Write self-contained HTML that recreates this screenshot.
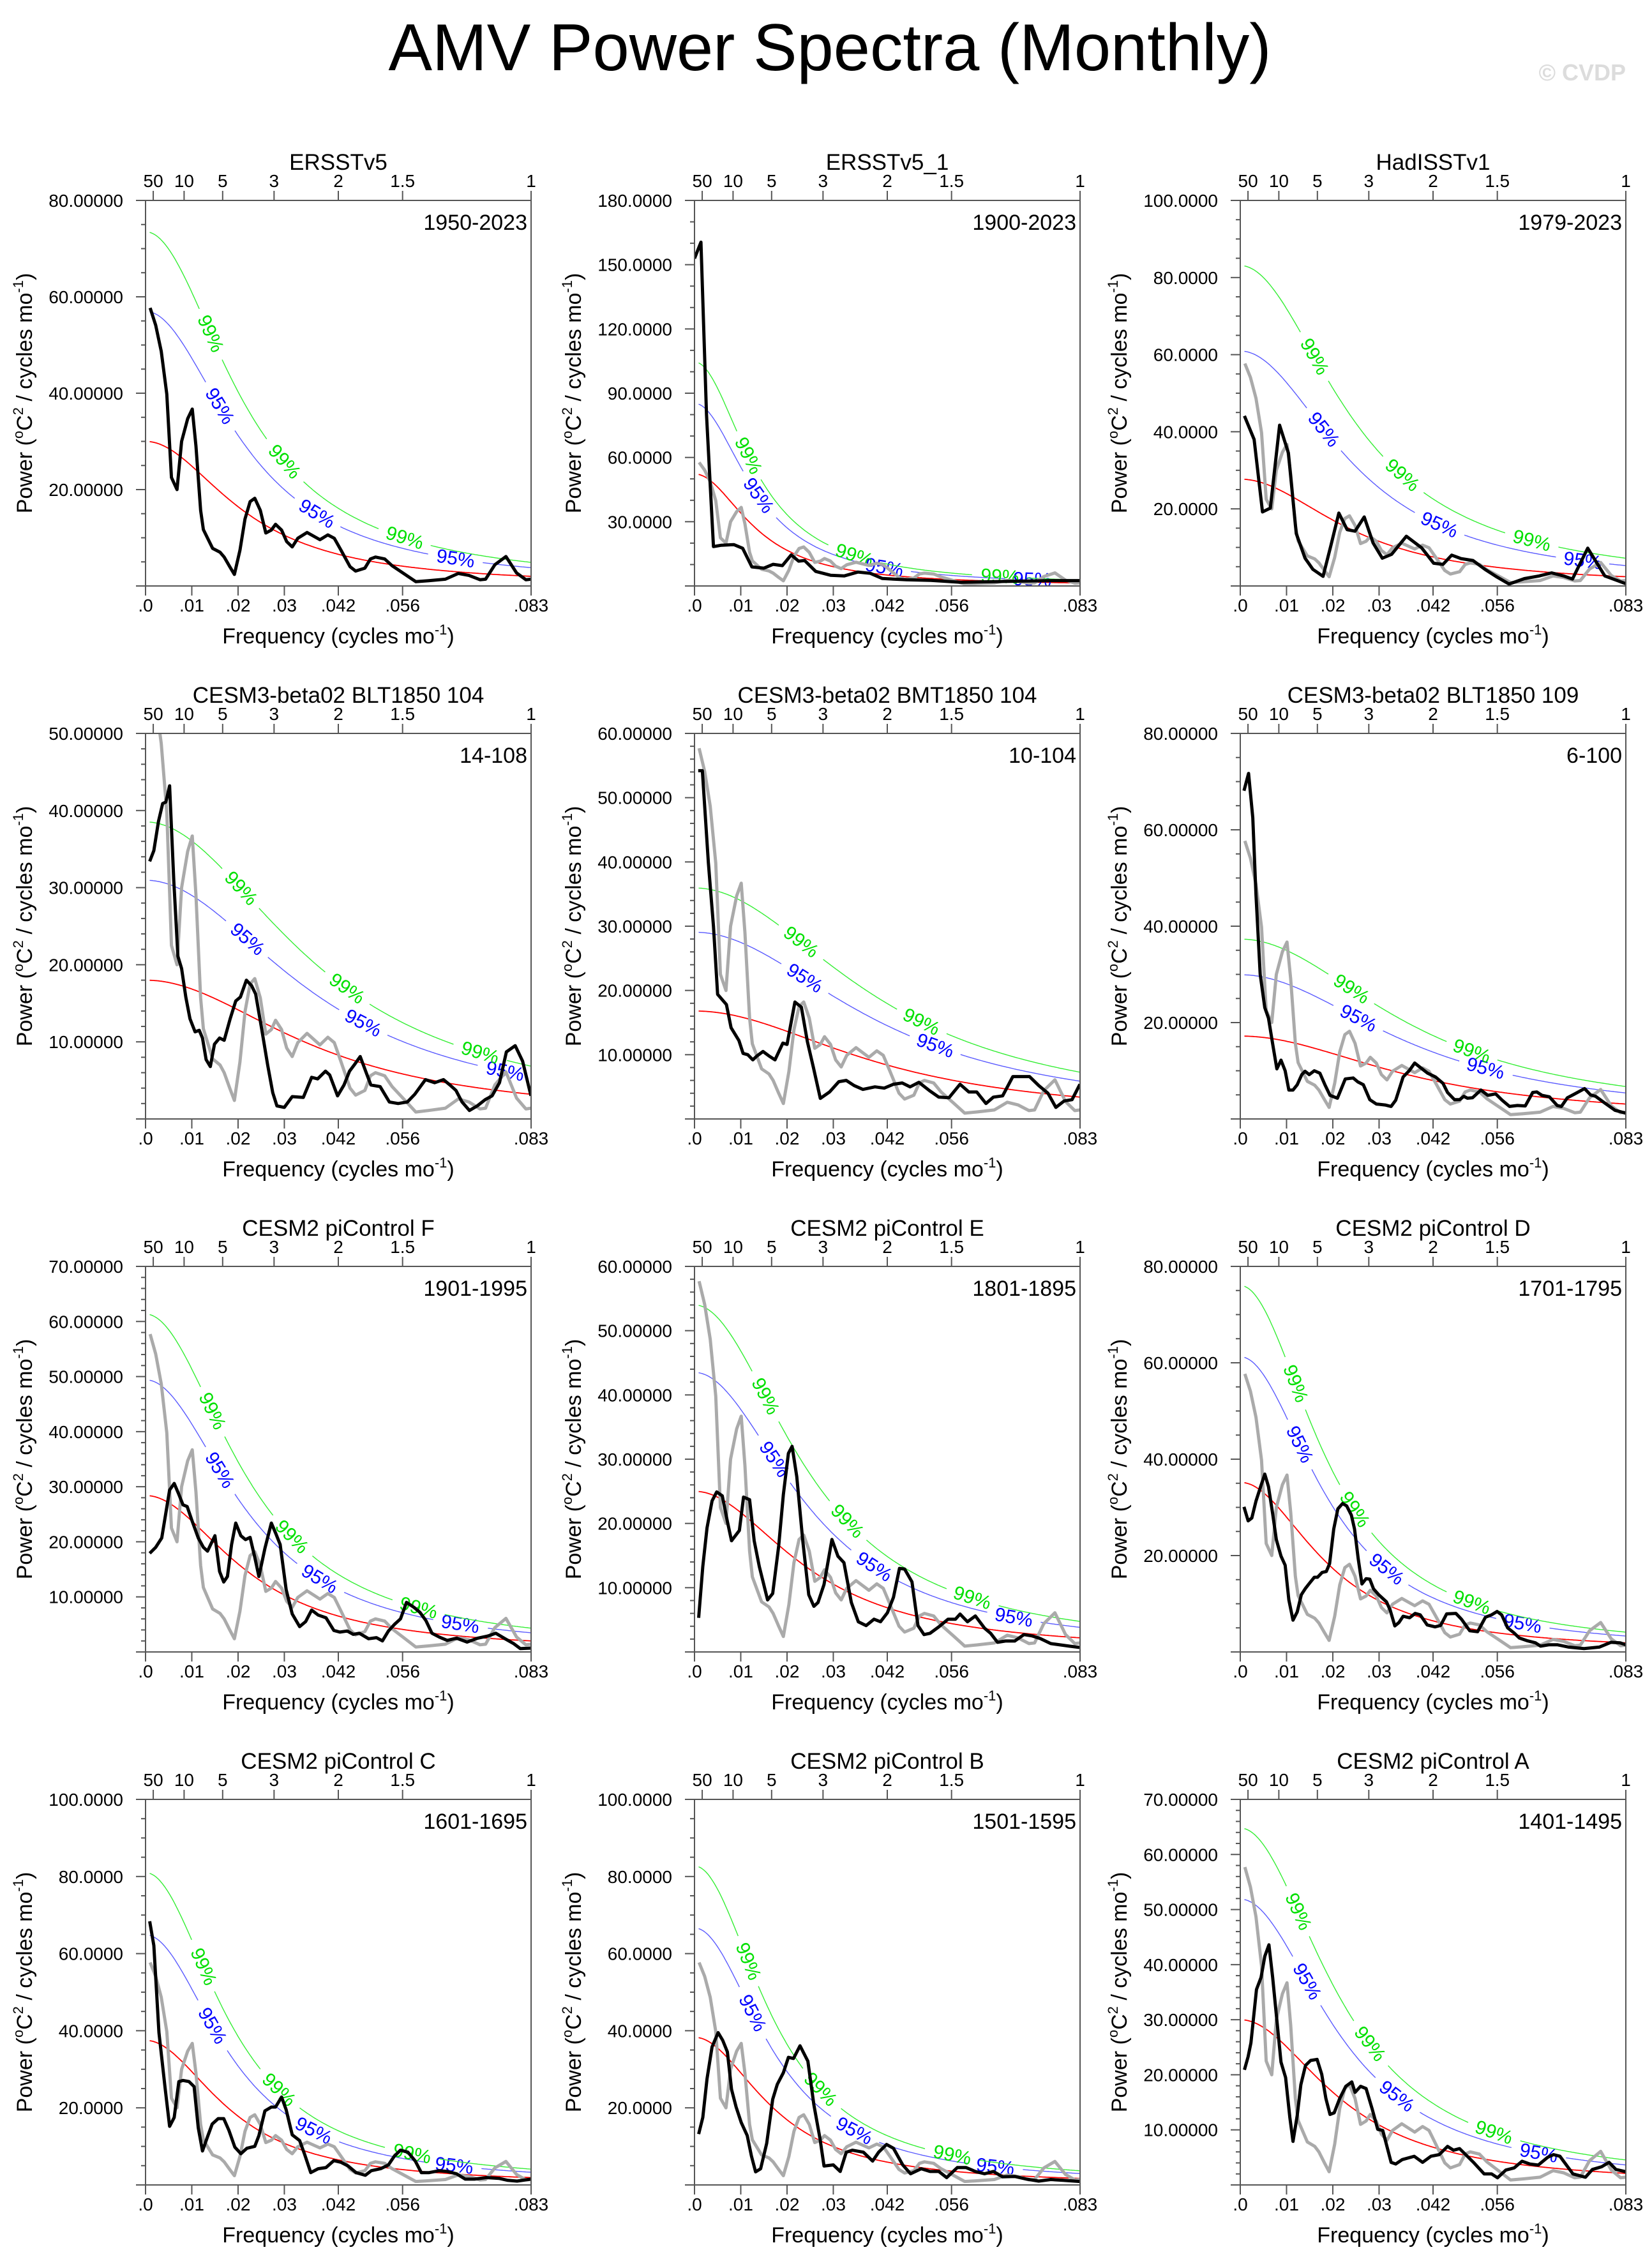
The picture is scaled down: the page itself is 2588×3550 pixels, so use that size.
<!DOCTYPE html>
<html><head><meta charset="utf-8"><title>AMV Power Spectra (Monthly)</title>
<style>
html,body{margin:0;padding:0;background:#fff;}
svg{display:block;font-family:"Liberation Sans",Arial,sans-serif;}
</style></head>
<body>
<svg id="chart" xmlns="http://www.w3.org/2000/svg" width="2588" height="3550" viewBox="0 0 2588 3550">
<rect x="0" y="0" width="2588" height="3550" fill="#fff"/>
<text x="1300" y="110" text-anchor="middle" font-size="104" textLength="1383" lengthAdjust="spacingAndGlyphs">AMV Power Spectra (Monthly)</text>
<text x="2547" y="126" text-anchor="end" font-size="36" font-weight="bold" fill="#dcdcdc">© CVDP</text>
</svg>
<script>
// ---- data (frequency in cycles/mo, power in degC^2/(cycles/mo)) ----
const titles = ["ERSSTv5","ERSSTv5_1","HadISSTv1","CESM3-beta02 BLT1850 104","CESM3-beta02 BMT1850 104","CESM3-beta02 BLT1850 109","CESM2 piControl F","CESM2 piControl E","CESM2 piControl D","CESM2 piControl C","CESM2 piControl B","CESM2 piControl A"];
const years = ["1950-2023","1900-2023","1979-2023","14-108","10-104","6-100","1901-1995","1801-1895","1701-1795","1601-1695","1501-1595","1401-1495"];
const yMax = [80,180,100,50,60,80,70,60,80,100,100,70];
const yMajor = [20,30,20,10,10,20,10,10,20,20,20,10];
const yMinor = [5,10,5,2,2,5,2,2,5,5,5,2];
const redStart = [30,52.3,27.7,18,16.8,17.2,28.4,25,35.2,37.5,38.3,30];
const redEnd = [2.0,1.4,2.4,3.2,3.4,3.1,2.0,2.2,1.9,1.9,1.7,2.1];
const ratio95 = [1.9,1.63,2.2,1.72,1.73,1.74,1.74,1.74,1.74,1.73,1.74,1.73];
const ratio99 = [2.45,2.0,3.0,2.14,2.14,2.17,2.16,2.16,2.16,2.16,2.16,2.16];
const xTickVals = [0,0.01,0.02,0.03,1/24,1/18,1/12];
const xTickLabels = [".0",".01",".02",".03",".042",".056",".083"];
const periodYears = [50,10,5,3,2,1.5,1];
const periodLabels = ["50","10","5","3","2","1.5","1"];
const lab99 = [[.014,.030,.056],[.0116,.0345,.066],[.016,.035,.063],[.0206,.0435,.0723],[.023,.049],[.024,.05],[.0144,.0316,.059],[.0153,.033,.060],[.0119,.0247,.050],[.0125,.0288,.0576],[.0116,.0272,.0557],[.0125,.028,.0548]];
const lab95 = [[.016,.037,.067],[.0138,.041,.073],[.018,.043,.074],[.022,.047,.0777],[.0238,.052],[.0255,.053],[.016,.0376,.068],[.0172,.0388,.069],[.0128,.0316,.061],[.0144,.0363,.0667],[.0125,.0345,.065],[.0144,.0338,.0645]];

const freq1 = [.001,.0022,.0034,.0046,.0056,.0068,.0078,.0091,.0101,.0109,.0119,.0125,.0145,.0161,.017,.0182,.0192,.0204,.0215,.0226,.0236,.0248,.026,.0272,.0281,.0294,.0305,.0317,.0329,.0349,.0377,.0394,.0408,.0422,.0442,.0454,.0474,.0486,.0497,.0517,.0533,.0561,.0584,.0612,.0648,.0676,.0699,.0723,.0735,.0755,.0779,.0802,.0822,.0833];
const power1 = [57.7,54.1,48.7,39.8,22.5,20,30,34.7,36.7,29,15.7,11.7,7.8,7,6,4,2.4,7.4,13.9,17.5,18.2,15.7,11,11.6,12.8,11.6,9.2,8.1,9.9,11.1,9.6,10.6,9.9,7.5,4,3.1,3.7,5.6,6,5.6,4.2,2.4,.9,1.1,1.4,2.6,2.2,1.3,1.4,4.4,6.1,2.7,1.3,1.4];
const freq2 = [0,.0014,.0026,.0041,.0058,.0085,.0104,.0124,.015,.017,.019,.0209,.0225,.0238,.0262,.0294,.0324,.0353,.038,.0406,.0458,.0511,.0576,.0642,.072,.0773,.0833];
const power2 = [152.9,160.5,80,18.4,19,19.3,17.6,8.9,8.3,10.1,9.5,14.5,11.6,11.9,6.8,5,4.7,6.5,5.9,3.5,2.9,2.6,1.7,2,2.3,2.5,2.5];
const freq3 = [.0009,.003,.0048,.0065,.0085,.0104,.0121,.014,.0157,.0179,.0196,.0213,.0231,.0248,.0268,.0287,.0307,.0327,.0359,.0392,.0418,.0438,.0457,.0477,.0503,.0529,.0555,.0581,.0614,.0646,.0673,.0699,.0718,.0751,.0788,.0833];
const power3 = [44.1,38,19.2,20.2,41.7,34.5,13.6,7.2,4.3,2.5,10.6,18.9,14.6,14.2,17.9,11.2,7.2,8.2,12.9,9.9,5.9,5.6,8,7.1,6.6,4.3,2.3,.5,1.9,2.6,3.4,2.6,1.8,9.8,2.6,.6];
const freq4 = [.0009,.0018,.0028,.0037,.0044,.0052,.0061,.007,.0078,.0087,.0096,.0107,.0116,.0123,.0131,.014,.0149,.016,.017,.0183,.0195,.0205,.0218,.0229,.0238,.0251,.0264,.0275,.0284,.03,.0317,.0341,.0359,.0372,.0389,.0398,.0415,.0429,.0441,.0451,.0464,.0477,.0487,.0507,.0527,.0546,.0566,.0582,.0605,.0625,.0644,.0658,.0671,.0684,.07,.0717,.0734,.0749,.0765,.078,.0799,.0815,.0833];
const power4 = [33.4,34.8,38.6,40.9,41.1,43.2,31,21.1,19.5,15.8,13,11.3,11.5,10.5,7.7,6.8,9.7,10.5,10.2,13,15.3,15.8,18,17.3,16.2,11.7,7,3.4,1.7,1.5,2.9,2.8,5.4,5.2,6.2,5.7,3,4.4,6.2,7,8.1,6,4.4,4.2,2.2,2,2.2,3.2,5.1,4.7,5.1,4.4,3.7,2.2,1.1,1.7,2.5,3,4.7,8.7,9.5,7.5,3];
const freq5 = [.0008,.0017,.003,.0041,.005,.0069,.0079,.0096,.0105,.0115,.0126,.0135,.0148,.0161,.0174,.0191,.02,.0217,.0231,.0244,.0257,.0272,.0292,.0312,.0328,.0345,.0364,.039,.041,.043,.0449,.0466,.0485,.0508,.0528,.055,.0574,.0593,.061,.063,.0646,.0666,.0688,.0705,.0724,.0744,.0764,.0781,.0799,.0816,.0833];
const power5 = [54.2,54.2,39.9,30,19.4,17.8,14.2,12.2,10.2,10,9.2,9.8,10.5,9.8,9.2,11.8,11.6,18.2,17.4,12,8,3.2,4.2,5.8,6,5.2,4.6,5,4.8,5.4,5.6,5,5.7,4.4,3.4,3.3,5.4,4.2,4.2,2.4,3.4,3.6,6.6,6.6,6.6,5.2,4,1.8,2.8,3,5.4];
const freq6 = [.0008,.0018,.0027,.0034,.0043,.0053,.0061,.007,.0079,.0088,.0097,.0105,.0114,.0123,.0133,.014,.0149,.016,.0172,.0183,.0194,.021,.0227,.0244,.0254,.0266,.028,.0294,.0313,.0326,.0336,.0352,.0365,.0377,.0393,.0405,.0422,.0438,.0448,.0463,.0474,.0483,.0491,.0502,.052,.0535,.0552,.0566,.0582,.0599,.0616,.0632,.0641,.0652,.0668,.0685,.0694,.0707,.0721,.0744,.0757,.0768,.0788,.081,.0833];
const power6 = [68.1,71.7,62.5,46.5,30,23.1,20.9,15.6,10.4,12.2,10,6,6,7.1,9.2,9.9,9.2,10,9.5,7.1,4.9,4.3,8.3,8.5,7.7,7.1,4,3.1,2.9,2.6,3.9,8.7,10,11.6,10.4,9.5,8.7,7.4,5.5,4,4,4.7,4.3,4.4,6,4.9,5.2,3.9,2.6,2.8,2.7,5.5,5.6,4.9,4.6,2.8,2.6,4.4,5.1,6.3,5,4.7,3.3,1.8,1.2];
const freq7 = [.0009,.0022,.0035,.0052,.0062,.0071,.0081,.009,.0101,.0114,.0125,.0134,.015,.016,.0169,.0177,.0186,.0195,.0206,.0216,.0226,.0236,.0245,.0258,.0272,.0281,.0291,.0304,.0317,.0333,.0346,.0359,.0373,.039,.0407,.042,.0436,.0449,.0462,.0482,.0499,.0512,.0525,.0538,.0551,.0564,.058,.0593,.0606,.0619,.0635,.0652,.0672,.0695,.0718,.074,.0757,.0777,.0796,.081,.0833];
const power7 = [17.9,19,20.7,29.4,30.6,28.8,26.7,26.4,23.7,20.7,19,18.3,21.1,14.6,12.7,13.7,19.5,23.4,21.1,20.4,20.8,17.2,13.7,18.8,23.4,21.6,19.5,11.3,6.9,4.6,5.5,7.6,6.7,6.2,3.9,3.6,3.8,3.2,3.4,2.4,2.6,2,3.8,5,6,9,8.1,7.2,5.7,3.4,2.7,2.1,2.5,1.8,2.5,2.9,3.4,2.4,1.5,.6,.7];
const freq8 = [.0009,.0018,.0027,.0038,.0048,.006,.0071,.008,.0097,.0106,.0119,.0129,.014,.0158,.0169,.0182,.0192,.0203,.0211,.0221,.0234,.0247,.0258,.0267,.028,.0297,.031,.0323,.0339,.0354,.0371,.0388,.0402,.0417,.043,.0443,.0454,.047,.0483,.0496,.0509,.0528,.0548,.0564,.0574,.059,.0607,.0627,.064,.0655,.0672,.0692,.0712,.0729,.0747,.077,.079,.081,.0833];
const power8 = [5.3,13.3,19.3,23.5,24.9,24.3,20.3,17.3,18.9,24.1,23.7,17.3,13.3,8.1,9.1,16.5,24.5,30.9,32,27.3,17.3,8.9,7.1,7.7,10.5,17.5,14.9,13.9,7.7,4.7,4.1,5.1,4.7,6.1,8.5,13,12.9,10.9,4.1,2.7,2.9,3.9,5.1,5.1,5.9,4.7,5.6,3.7,2.9,1.5,1.7,1.7,2.7,2.5,2.1,1.3,1.1,.9,.7];
const freq9 = [.0008,.0017,.0025,.0034,.0044,.0053,.0061,.007,.0078,.0088,.0097,.0105,.0114,.0123,.0132,.0141,.015,.016,.0167,.0177,.0186,.0193,.0202,.0211,.0221,.023,.024,.0247,.0255,.0263,.0272,.028,.0288,.0299,.0316,.0324,.0334,.0343,.0352,.0366,.0378,.0389,.0404,.0421,.0433,.0446,.0466,.0478,.0496,.0513,.053,.0543,.0555,.0565,.0578,.0591,.0603,.0621,.0638,.0649,.0668,.0685,.071,.0743,.0776,.0801,.0821,.0833];
const power9 = [30.1,27.2,27.8,31.3,34.3,36.9,34.3,28.7,23.3,19.9,18,10.8,6.6,8.3,11.9,13.2,14.3,15.5,15.5,16.5,16.7,18.3,25.5,29.7,30.8,30.3,28.4,25.5,19.3,14.1,15.2,15.1,13.1,11.9,10.4,8.7,5.4,6.1,7.4,7.1,8,7.7,5.6,5.2,5.5,7.9,8,6.8,4.4,4.2,7.2,7.7,8.4,7.7,5,4,2.9,2.3,1.9,1.2,1.5,1.5,1,.7,1,2,1.9,1.5];
const freq10 = [.0009,.0018,.0029,.0042,.0052,.0062,.0072,.0081,.0094,.0105,.0114,.0123,.0134,.0144,.0157,.0169,.018,.0193,.0206,.0219,.0236,.0245,.0258,.0272,.0281,.0294,.0304,.0317,.0333,.0344,.0357,.0373,.039,.0407,.0422,.0438,.0455,.0475,.0488,.0508,.0525,.0538,.0551,.0567,.0583,.0596,.0613,.0635,.0652,.0672,.0691,.0711,.0737,.0764,.0783,.0803,.0833];
const power10 = [68.4,62.1,39.5,25.5,15.2,17.5,26.8,27.1,26.8,25.5,14.8,8.8,12.5,15.8,17.2,17.2,14.2,9.8,8.1,9.5,10,12.8,19.2,20.2,20.2,22.8,19.5,13,11.5,7.9,3.2,4.2,4.5,6.3,5.9,4.9,3.2,2.5,3.7,4.2,5.2,7.5,9,8.5,6.2,3.2,3.2,3.7,3.5,2.9,1.5,1.5,1.9,1.7,1.2,1,1.5];
const freq11 = [.0009,.0018,.0027,.0038,.0051,.0061,.0071,.008,.009,.0101,.0114,.0123,.0132,.0143,.0156,.0169,.0179,.0192,.0203,.0214,.0228,.0245,.0258,.0271,.028,.03,.0315,.0328,.0341,.0365,.0385,.0398,.0415,.043,.045,.0467,.049,.0509,.0528,.0545,.0568,.0587,.0607,.0627,.0646,.0666,.0692,.0718,.0744,.077,.0797,.0833];
const power11 = [13.2,17.5,27.5,35.8,39.5,37.5,34.5,24.8,20.2,16.2,12.8,7.5,3.4,4.2,10.8,22.2,26.1,29.1,33.1,32.8,36.1,32.1,20.8,12.2,4.9,5.2,3.5,8.5,9,8.5,6.2,8.5,10.5,9.5,5.2,2.9,4.2,3.5,3.5,1.9,4.5,4.5,3.5,2.9,3.5,2.1,2.2,1.5,1,1.4,1.2,.9];
const freq12 = [.0009,.0017,.0023,.0035,.0045,.0053,.0062,.007,.0088,.0098,.0107,.0114,.0123,.0131,.0141,.0152,.0166,.0176,.0185,.0194,.0203,.0215,.0228,.0241,.0248,.026,.0272,.0285,.0297,.0308,.0326,.0336,.035,.0376,.0394,.0412,.043,.0448,.0461,.0474,.0504,.0527,.0543,.0556,.0574,.0592,.0609,.0626,.0644,.0664,.0677,.0691,.0719,.0746,.0761,.0781,.0797,.0812,.0833];
const power12 = [20.9,23.3,25.8,35.5,37.7,41.5,43.6,37.7,22.3,19.5,12.3,7.9,12.6,18.2,21.7,22.6,22.8,20.1,15.7,12.8,13.1,15.7,17.9,18.7,16.8,17.9,17.5,13.8,10.1,9.9,4.1,3.8,4.6,5.2,4.1,5.2,5.5,7,6.3,6.6,4.1,2,2,1.3,2.7,3.1,4.3,3.8,3.6,5,5.5,5.2,2,1.4,2.8,3.3,4.1,2.8,2.4];

const freqs = [freq1,freq2,freq3,freq4,freq5,freq6,freq7,freq8,freq9,freq10,freq11,freq12];
const powers = [power1,power2,power3,power4,power5,power6,power7,power8,power9,power10,power11,power12];
const grayFreq = freq1;
const grayPower = power1;

// ---- layout ----
const NS = "http://www.w3.org/2000/svg";
const svg = document.getElementById("chart");
const colX = [228,1088,1943], rowY = [314,1149,1984,2819], PW = 604, PH = 604, FMAX = 1/12;

function el(tag, attrs, parent, txt){
  const e = document.createElementNS(NS, tag);
  for (const k in attrs) e.setAttribute(k, attrs[k]);
  if (txt !== undefined) e.textContent = txt;
  (parent || svg).appendChild(e);
  return e;
}
function solveR(ratio){
  const c = Math.cos(2*Math.PI*FMAX);
  let lo = 0, hi = 0.9999;
  for (let i=0;i<80;i++){
    const r=(lo+hi)/2;
    const v=(1+r*r-2*r*c)/((1-r)*(1-r));
    if (v<ratio) lo=r; else hi=r;
  }
  return (lo+hi)/2;
}

for (let p=0;p<12;p++){
  const L = colX[p%3], T = rowY[Math.floor(p/3)], R = L+PW, B = T+PH;
  const xs = f => L + f/FMAX*PW;
  const ys = v => B - v/yMax[p]*PH;
  const g = el("g", {});
  
  
  const dec = yMax[p] >= 100 ? 4 : 5;

  const clipId = "clip"+p;
  const cp = el("clipPath", {id: clipId}, g);
  el("rect", {x:L, y:T, width:PW, height:PH}, cp);

  const r = solveR(redStart[p]/redEnd[p]);
  const red = f => redStart[p]*(1-r)*(1-r)/(1+r*r-2*r*Math.cos(2*Math.PI*f));
  const curves = [
    {k:1, color:"#ff0000", w:1.8, name:"red-noise-curve", labs:[], lt:""},
    {k:ratio95[p], color:"#5a5aff", w:1.4, name:"significance-95-curve", labs:lab95[p], lt:"95%", lc:"#0000ff"},
    {k:ratio99[p], color:"#33ee33", w:1.4, name:"significance-99-curve", labs:lab99[p], lt:"99%", lc:"#00e000"}
  ];
  const N = 300, f0 = 0.0009;
  curves.forEach(cv=>{
    const lp = cv.labs.map(f=>[xs(f), ys(red(f)*cv.k)]);
    let d = "", pen = false;
    for (let i=0;i<=N;i++){
      const f = f0 + (FMAX-f0)*i/N;
      const x = xs(f), y = ys(red(f)*cv.k);
      const near = lp.some(q=>Math.hypot(q[0]-x,q[1]-y) < 42);
      if (near){ pen=false; continue; }
      d += (pen ? "L" : "M") + x.toFixed(1) + "," + y.toFixed(1);
      pen = true;
    }
    const path = el("path", {d:d, fill:"none", stroke:cv.color, "stroke-width":cv.w, "clip-path":"url(#"+clipId+")"}, g);
    
    
    cv.labs.forEach(f=>{
      const x = xs(f), y = ys(red(f)*cv.k);
      const x2 = xs(f+0.0005), y2 = ys(red(f+0.0005)*cv.k);
      const ang = Math.atan2(y2-y, x2-x)*180/Math.PI;
      const t = el("text", {x:0, y:0, transform:"translate("+x.toFixed(1)+","+y.toFixed(1)+") rotate("+ang.toFixed(1)+")", "text-anchor":"middle", "dominant-baseline":"central", "font-size":30, fill:cv.lc}, g, cv.lt);
      
      
    });
  });

  function line(fa, pa, color, name){
    let d = "";
    for (let i=0;i<fa.length;i++) d += (i? "L":"M") + xs(fa[i]).toFixed(1) + "," + ys(pa[i]).toFixed(1);
    const pth = el("path", {d:d, fill:"none", stroke:color, "stroke-width":5, "stroke-linejoin":"round", "clip-path":"url(#"+clipId+")"}, g);
    
    
  }
  if (p>0) line(grayFreq, grayPower, "#aaaaaa", "ersstv5-reference-spectrum");
  line(freqs[p], powers[p], "#000000", "power-spectrum-line");

  const fr = el("rect", {x:L, y:T, width:PW, height:PH, fill:"none", stroke:"#555", "stroke-width":2}, g);
  
  

  for (let v=0; v<=yMax[p]+1e-9; v+=yMinor[p]){
    const y = ys(v);
    const major = Math.abs(v/yMajor[p]-Math.round(v/yMajor[p]))<1e-6;
    el("line", {x1:L, x2:L-(major?15:7), y1:y, y2:y, stroke:"#555", "stroke-width":2}, g);
    if (major && v>0){
      const t = el("text", {x:L-35, y:y+10, "text-anchor":"end", "font-size":28}, g, v.toFixed(dec));
      
      
    }
  }
  xTickVals.forEach((f,i)=>{
    const x = xs(f);
    el("line", {x1:x, x2:x, y1:B, y2:B+15, stroke:"#555", "stroke-width":2}, g);
    const t = el("text", {x:x, y:B+40, "text-anchor":"middle", "font-size":28}, g, xTickLabels[i]);
    
    
  });
  periodYears.forEach((yr,i)=>{
    const x = xs(1/(yr*12));
    el("line", {x1:x, x2:x, y1:T, y2:T-15, stroke:"#555", "stroke-width":2}, g);
    const t = el("text", {x:x, y:T-21, "text-anchor":"middle", "font-size":28}, g, periodLabels[i]);
    
    
  });
  const tt = el("text", {x:L+PW/2, y:T-48, "text-anchor":"middle", "font-size":35}, g, titles[p]);
  
  
  const yr = el("text", {x:R-6, y:T+46, "text-anchor":"end", "font-size":34}, g, years[p]);
  
  
  const xt = el("text", {x:L+PW/2, y:B+90, "text-anchor":"middle", "font-size":34}, g);
  
  
  el("tspan", {}, xt, "Frequency (cycles mo");
  el("tspan", {"font-size":22, dy:-14}, xt, "-1");
  el("tspan", {dy:14}, xt, ")");
  const yt = el("text", {x:0, y:0, transform:"translate("+(L-178)+","+(T+PH/2)+") rotate(-90)", "text-anchor":"middle", "font-size":34}, g);
  
  
  el("tspan", {}, yt, "Power (");
  el("tspan", {"font-size":22, dy:-14}, yt, "o");
  el("tspan", {dy:14}, yt, "C");
  el("tspan", {"font-size":22, dy:-14}, yt, "2");
  el("tspan", {dy:14}, yt, " / cycles mo");
  el("tspan", {"font-size":22, dy:-14}, yt, "-1");
  el("tspan", {dy:14}, yt, ")");
}
</script>
</body></html>
